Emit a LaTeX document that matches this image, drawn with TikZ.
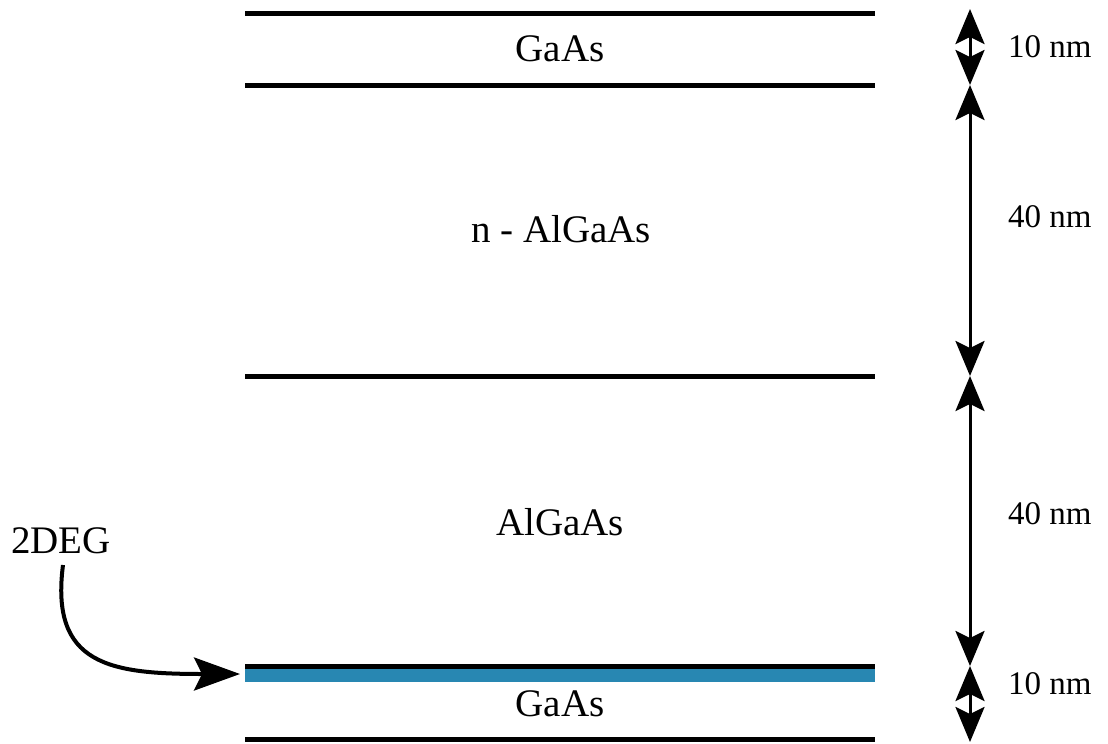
\documentclass[tikz,border=0pt]{standalone}
\usepackage{fontspec}
\setmainfont{Liberation Serif}
\usetikzlibrary{arrows.meta}
\definecolor{degblue}{RGB}{40,135,178}
\tikzset{
  layerline/.style={line width=5pt},
  dimarrow/.style={line width=3pt, {Stealth[length=35pt, width=29pt, inset=7pt]}-{Stealth[length=35pt, width=29pt, inset=7pt]}},
  layerlabel/.style={font=\fontsize{39}{44}\selectfont, anchor=base, inner sep=0pt},
  dimlabel/.style={font=\fontsize{33}{38}\selectfont, anchor=base west, inner sep=0pt},
}
\begin{document}
\begin{tikzpicture}[x=1pt, y=-1pt]
\useasboundingbox (0,0) rectangle (1108,744);

% === layer boundaries ===
\coordinate (b0) at (970,9);
\coordinate (b1) at (970,85);
\coordinate (b2) at (970,376);
\coordinate (b3) at (970,666);
\coordinate (b4) at (970,742);

\draw[layerline] (245,13) -- (875,13);
\draw[layerline] (245,85) -- (875,85);
\draw[layerline] (245,376) -- (875,376);
\fill[degblue] (245,668) rectangle (875,682);
\draw[layerline] (245,666) -- (875,666);
\draw[layerline] (245,739.5) -- (875,739.5);

% === layer names ===
\node[layerlabel] (capgaas) at (560,61) {GaAs};
\node[layerlabel] (dopant) at (561,242) {n - AlGaAs};
\node[layerlabel] (spacer) at (560,535) {AlGaAs};
\node[layerlabel] (substrate) at (560,716) {GaAs};

% === thicknesses ===
\draw[dimarrow] (b0) -- (b1);
\draw[dimarrow] (b1) -- (b2);
\draw[dimarrow] (b2) -- (b3);
\draw[dimarrow] (b3) -- (b4);
\node[dimlabel] (t1) at (1008,57) {10 nm};
\node[dimlabel] (t2) at (1008,227) {40 nm};
\node[dimlabel] (t3) at (1008,524) {40 nm};
\node[dimlabel] (t4) at (1008,694) {10 nm};

% === 2DEG pointer ===
\node[font=\fontsize{39}{44}\selectfont, anchor=base, inner sep=0pt] (deg) at (61,553) {2DEG};
\coordinate (degtail) at (63,565);
\coordinate (degtip) at (240,674);
\draw[line width=4pt, -{Stealth[length=46pt, width=33pt, inset=8pt]}] (degtail) .. controls (50,665) and (110,674) .. (degtip);

\end{tikzpicture}
\end{document}
